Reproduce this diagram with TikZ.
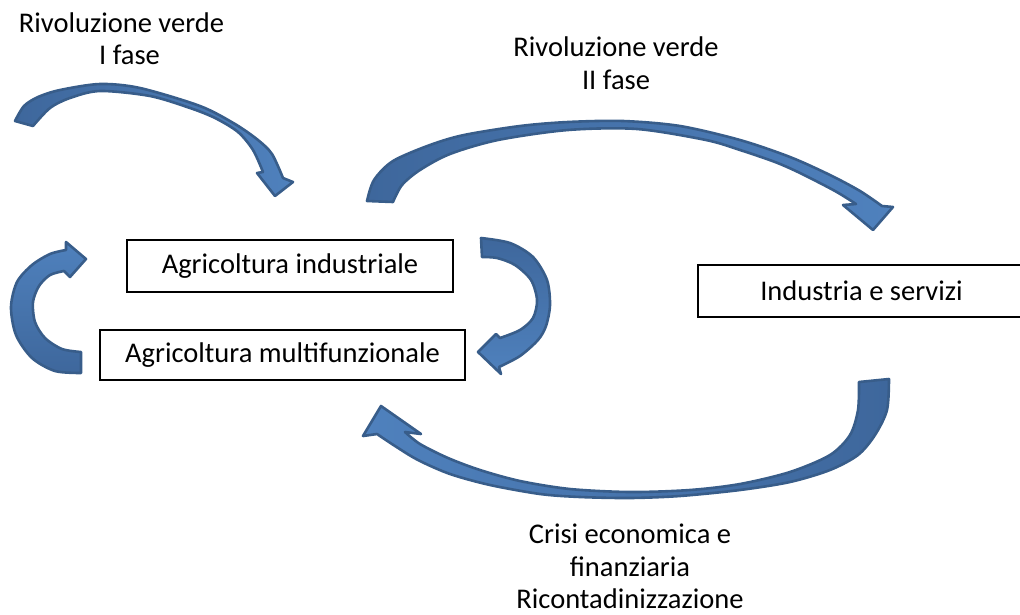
\documentclass[tikz,border=0pt]{standalone}
\usepackage{fontspec}
\setmainfont{Carlito}
\definecolor{alight}{HTML}{4F81BD}
\definecolor{adark}{HTML}{3E679C}
\definecolor{aline}{HTML}{385D8A}
\tikzset{
  arrowshape/.style={draw=aline, line width=2.6pt, line join=round},
  box/.style={draw=black, line width=1.4pt, inner sep=0pt, font=\fontsize{28.5}{32.5}\selectfont},
  lbl/.style={align=center, inner sep=0pt, font=\fontsize{28.5}{32.5}\selectfont}
}
\begin{document}
\begin{tikzpicture}[x=1pt, y=-1pt]
\useasboundingbox (0,0) rectangle (1020,614);
\clip (0,0) rectangle (1020,614);
% labels
\node[lbl] (rv1) at (125.5,38.5) {Rivoluzione verde\hspace*{8pt}\\\hspace*{8pt}I fase};
\node[lbl] (rv2) at (616,63) {Rivoluzione verde\\II fase};
\node[lbl] (crisi) at (630,566.5) {Crisi economica e\\finanziaria\\Ricontadinizzazione};
% boxes
\node[box, minimum width=326pt, minimum height=52pt] (ind) at (290,266) {Agricoltura industriale};
\node[box, minimum width=365pt, minimum height=50pt] (multi) at (282.5,355) {Agricoltura multifunzionale};
\node[box, minimum width=327pt, minimum height=52pt] (serv) at (861.5,291) {Industria e servizi};
% arrow 1: top-left
\path[arrowshape, left color=adark, right color=alight]
  plot[smooth] coordinates {(15,121) (24,106) (38,97) (60,90) (100,84) (140,88) (200,106) (235,124) (258,140) (272,154) (283,178)}
  -- (293,182) -- (275,196) -- (257,173)
  -- plot[smooth] coordinates {(263,172) (253,150) (238,132) (215,118) (190,108) (150,96) (100,91) (70,98) (50,108) (33,126)}
  -- cycle;
% arrow 2: top-right
\path[arrowshape, left color=adark, right color=alight]
  plot[smooth] coordinates {(367,201) (374,180) (393,161) (430,145) (464,135) (520,126) (568,122) (623,121) (680,126) (740,140) (790,157) (830,175) (860,191) (882,206)}
  -- (893,207) -- (873,230) -- (843,205)
  -- plot[smooth] coordinates {(856,204) (835,191) (800,173) (775,162) (740,150) (706,140) (637,129) (568,130) (498,140) (450,154) (420,170) (402,185) (393,202)}
  -- cycle;
% arrow 3: right of the boxes
\path[arrowshape, top color=adark, bottom color=alight]
  plot[smooth] coordinates {(481,238) (510,243) (533,257) (547,280) (550,305) (546,326) (538,340) (520,356) (499,367)}
  -- (501,374) -- (478,352) -- (496,334)
  -- plot[smooth] coordinates {(500,338) (520,330) (533,318) (537,300) (531,280) (515,265) (497,258) (482,257)}
  -- cycle;
% arrow 4: left of the boxes
\path[arrowshape, bottom color=adark, top color=alight]
  plot[smooth] coordinates {(81,373) (55,371) (32,358) (16,335) (11,307) (17,282) (32,265) (50,254) (66,250)}
  -- (66,242) -- (86,259) -- (70,277)
  -- plot[smooth] coordinates {(64,271) (50,275) (39,286) (33,302) (35,322) (45,338) (62,349) (81,352)}
  -- cycle;
% arrow 5: bottom
\path[arrowshape, right color=adark, left color=alight]
  plot[smooth] coordinates {(889,379) (887,410) (875,435) (858,455) (830,470) (790,482) (740,490) (680,496) (630,498) (580,497) (540,494) (490,485) (450,474) (418,460) (395,446) (377,434)}
  -- (363,436) -- (381,406) -- (421,434)
  -- plot[smooth] coordinates {(405,432) (420,444) (448,458) (480,470) (520,481) (570,489) (630,492) (690,490) (740,484) (790,472) (830,455) (850,435) (858,410) (859,382)}
  -- cycle;
\end{tikzpicture}
\end{document}
